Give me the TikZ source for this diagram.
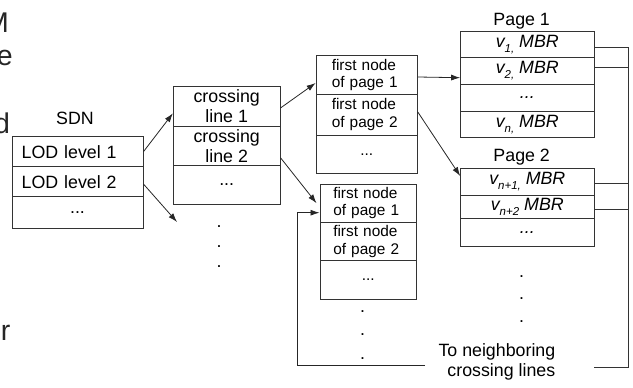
\documentclass[tikz,border=0pt]{standalone}
\usepackage{fontspec}
\setmainfont{Liberation Sans}
\usetikzlibrary{arrows.meta,calc}
\newcommand\mainsz{\fontsize{17.8}{20.5}\selectfont}
\newcommand\smallsz{\fontsize{15.4}{17.2}\selectfont}
\newcommand\bigsz{\fontsize{28.5}{32}\selectfont}
\newcommand\lowsub[1]{\raisebox{-5pt}{\fontsize{11.5}{11.5}\selectfont #1}}
\tikzset{
  ln/.style={draw=black!80, line width=0.9pt},
  cellbox/.style={ln, inner sep=0pt, font=\mainsz, align=center},
  smallcell/.style={cellbox, font=\smallsz},
  lbl/.style={inner sep=0pt, font=\mainsz},
  frag/.style={inner sep=0pt, font=\bigsz, anchor=base east, text=black!85},
  dotlbl/.style={inner sep=0pt, font=\mainsz, anchor=base},
  arr/.style={draw=black!85, line width=0.8pt, -{Latex[length=9pt,width=6pt]}},
}
\begin{document}
\begin{tikzpicture}[x=1pt,y=-1pt]
\useasboundingbox (0,0) rectangle (633,388);

% fragments of surrounding text at the left edge (cut off in the reference too)
\node[frag] (fm) at (9,32.3) {M};
\node[frag] (fe) at (13,65.7) {e};
\node[frag] (fd) at (10.3,133) {d};
\node[frag] (for) at (10.5,340) {or};

% SDN
\node[lbl, anchor=base] (sdnlbl) at (75,124.5) {SDN};
\node[cellbox, minimum width=131pt, minimum height=30pt, text width=111.6pt, inner xsep=9.7pt, align=left] (s1) at (77.5,151.7) {LOD level 1};
\node[cellbox, minimum width=131pt, minimum height=30pt, text width=111.6pt, inner xsep=9.7pt, align=left] (s2) at (77.5,181.7) {LOD level 2};
\node[cellbox, minimum width=131pt, minimum height=31.6pt] (s3) at (77.5,212.5) {...};

% crossing lines
\node[cellbox, minimum width=106.7pt, minimum height=40.7pt] (c1) at (226.7,106.3) {crossing\\line 1};
\node[cellbox, minimum width=106.7pt, minimum height=39pt] (c2) at (226.7,146.2) {crossing\\line 2};
\node[cellbox, minimum width=106.7pt, minimum height=38.3pt] (c3) at (226.7,184.8) {...};
\node[dotlbl] (cd1) at (219,227) {.};
\node[dotlbl] (cd2) at (219,247.7) {.};
\node[dotlbl] (cd3) at (219,267.7) {.};

% first nodes (upper)
\node[smallcell, minimum width=101.3pt, minimum height=38.3pt, text width=69.9pt, inner xsep=15.7pt, align=left] (pn1) at (366.7,74.8) {first node\\of page 1};
\node[smallcell, minimum width=101.3pt, minimum height=41pt, text width=69.9pt, inner xsep=15.7pt, align=left] (pn2) at (366.7,114.5) {first node\\of page 2};
\node[smallcell, minimum width=101.3pt, minimum height=38.3pt] (pn3) at (366.7,154.2) {...};

% first nodes (lower)
\node[smallcell, minimum width=96.7pt, minimum height=38.3pt, text width=70.1pt, inner xsep=13.3pt, align=left] (q1) at (368.3,203.2) {first node\\of page 1};
\node[smallcell, minimum width=96.7pt, minimum height=38.4pt, text width=70.1pt, inner xsep=13.3pt, align=left] (q2) at (368.3,241.5) {first node\\of page 2};
\node[smallcell, minimum width=96.7pt, minimum height=38.6pt] (q3) at (368.3,280) {...};
\node[dotlbl] (qd1) at (362.7,312) {.};
\node[dotlbl] (qd2) at (362.7,335) {.};
\node[dotlbl] (qd3) at (362.7,359) {.};

% Page 1
\node[lbl, anchor=base] (pg1) at (521.7,25.3) {Page 1};
\node[cellbox, minimum width=133.3pt, minimum height=26.7pt] (p11) at (527.3,44.3) {\itshape v\lowsub{1,} MBR};
\node[cellbox, minimum width=133.3pt, minimum height=26.6pt] (p12) at (527.3,71) {\itshape v\lowsub{2,} MBR};
\node[cellbox, minimum width=133.3pt, minimum height=27.4pt] (p13) at (527.3,98) {\itshape ...};
\node[cellbox, minimum width=133.3pt, minimum height=26pt] (p14) at (527.3,124.7) {\itshape v\lowsub{n,} MBR};

% Page 2
\node[lbl, anchor=base] (pg2) at (521.7,161) {Page 2};
\node[cellbox, minimum width=133.3pt, minimum height=26.7pt] (p21) at (527.3,181.7) {\itshape v\lowsub{n+1,} MBR};
\node[cellbox, minimum width=133.3pt, minimum height=23.3pt] (p22) at (527.3,206.7) {\itshape v\lowsub{n+2} MBR};
\node[cellbox, minimum width=133.3pt, minimum height=27.7pt] (p23) at (527.3,232.2) {\itshape ...};
\node[dotlbl] (pd1) at (521.7,277.7) {.};
\node[dotlbl] (pd2) at (521.7,299.3) {.};
\node[dotlbl] (pd3) at (521.7,322.7) {.};

% bottom label
\node[lbl, anchor=base east] (to1) at (555.5,356) {To neighboring};
\node[lbl, anchor=base east] (to2) at (555.5,376.7) {crossing lines};

% arrows
\coordinate (free1) at (177,222);
\draw[arr] (s1.east) -- ([yshift=-7pt]c1.west);
\draw[arr] ([yshift=-2.3pt]s2.east) -- (free1);
\draw[arr] ([yshift=-1.7pt]c1.east) -- ([yshift=-8.2pt]pn1.west);
\draw[arr] ([yshift=-11.5pt]c2.east) -- ([xshift=-3pt]q1.west);
\draw[arr] ([yshift=-2.2pt]pn1.east) -- ([yshift=-6.7pt]p12.west);
\draw[arr] ([yshift=2.5pt]pn2.east) -- ([yshift=5.7pt]p21.west);

% feedback line on the left
\coordinate (fbR) at (425,365);
\coordinate (fbL) at (297,365);
\draw[arr] (fbR) -- (fbL) |- ([yshift=-9.5pt]q1.west);

% right rail
\coordinate (railB) at (628,367);
\coordinate (railE) at (594,367);
\draw[ln] ([yshift=-3.4pt]p11.east) -| (railB) -- (railE);
\draw[ln] ([yshift=3.3pt]p12.east) -| (railB);
\draw[ln] ([yshift=-1.6pt]p21.east) -| (railB);
\draw[ln] ([yshift=-2.3pt]p22.east) -| (railB);
\end{tikzpicture}
\end{document}
